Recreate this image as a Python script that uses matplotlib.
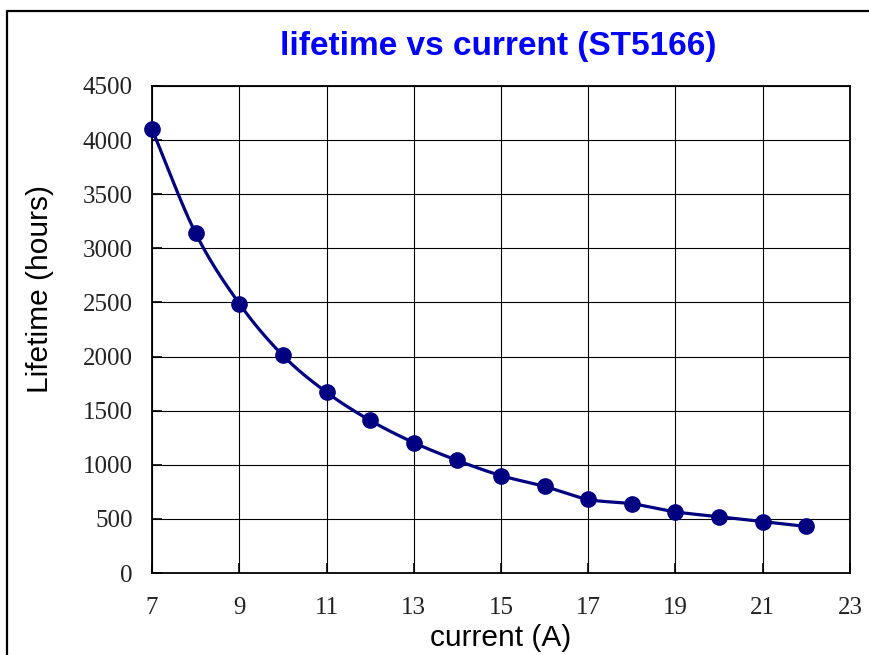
import numpy as np
import matplotlib
matplotlib.use("Agg")
import matplotlib.pyplot as plt
from matplotlib.lines import Line2D

current = [7, 8, 9, 10, 11, 12, 13, 14, 15, 16, 17, 18, 19, 20, 21, 22]
lifetime = [4100, 3140, 2490, 2010, 1670, 1410, 1205, 1040, 900, 800, 680, 640, 565, 520, 475, 430]
x_ticks = [7, 9, 11, 13, 15, 17, 19, 21, 23]
y_ticks = [0, 500, 1000, 1500, 2000, 2500, 3000, 3500, 4000, 4500]
title = "lifetime vs current (ST5166)"
x_label = "current (A)"
y_label = "Lifetime (hours)"


def catmull_rom(xs, ys, n=30):
    xs = np.asarray(xs, float)
    ys = np.asarray(ys, float)
    px = np.concatenate([[2 * xs[0] - xs[1]], xs, [2 * xs[-1] - xs[-2]]])
    py = np.concatenate([[2 * ys[0] - ys[1]], ys, [2 * ys[-1] - ys[-2]]])
    outx, outy = [], []
    t = np.linspace(0, 1, n, endpoint=False)
    for i in range(1, len(px) - 2):
        for arr, out in ((px, outx), (py, outy)):
            p0, p1, p2, p3 = arr[i - 1], arr[i], arr[i + 1], arr[i + 2]
            out.extend(0.5 * ((2 * p1) + (-p0 + p2) * t
                              + (2 * p0 - 5 * p1 + 4 * p2 - p3) * t ** 2
                              + (-p0 + 3 * p1 - 3 * p2 + p3) * t ** 3))
    outx.append(xs[-1])
    outy.append(ys[-1])
    return np.array(outx), np.array(outy)


fig = plt.figure(figsize=(8.7, 6.55), dpi=100)
ax = fig.add_axes([152 / 870, 1 - 573 / 655, (850 - 152) / 870, (573 - 86) / 655])

sx, sy = catmull_rom(current, lifetime)
ax.plot(sx, sy, color="#000080", lw=2.3, zorder=3, clip_on=False)
ax.plot(current, lifetime, "o", color="#000080", ms=11, zorder=4, clip_on=False)

ax.set_xlim(7, 23)
ax.set_ylim(0, 4500)
ax.set_xticks(x_ticks)
ax.set_yticks(y_ticks)
ax.grid(True, color="black", lw=0.8)
ax.set_axisbelow(True)
for s in ax.spines.values():
    s.set_linewidth(1.3)
    s.set_color("black")
ax.tick_params(direction="in", length=7, width=1.2,
               labelsize=18, colors="black")
for lab in ax.get_xticklabels() + ax.get_yticklabels():
    lab.set_fontfamily("Liberation Serif")
    lab.set_color("#222222")
ax.tick_params(axis="y", pad=14)
ax.tick_params(axis="x", pad=17)

fig.text(0.573, 1 - 47 / 655, title, ha="center", va="center",
         fontsize=24, fontweight="bold", color="#0000FF", family="Liberation Sans")
fig.text(501 / 870, 1 - 638 / 655, x_label, ha="center", va="center",
         fontsize=21.5, family="Liberation Sans")
fig.text(40 / 870, 1 - 289 / 655, y_label, ha="center", va="center",
         rotation=90, fontsize=21.5, family="Liberation Sans")

fx = 7 / 870
fy = 1 - 11 / 655
fig.add_artist(Line2D([fx, fx, 1.0], [0.0, fy, fy], transform=fig.transFigure,
                      color="black", lw=1.6))

fig.savefig("out.png", dpi=100)
